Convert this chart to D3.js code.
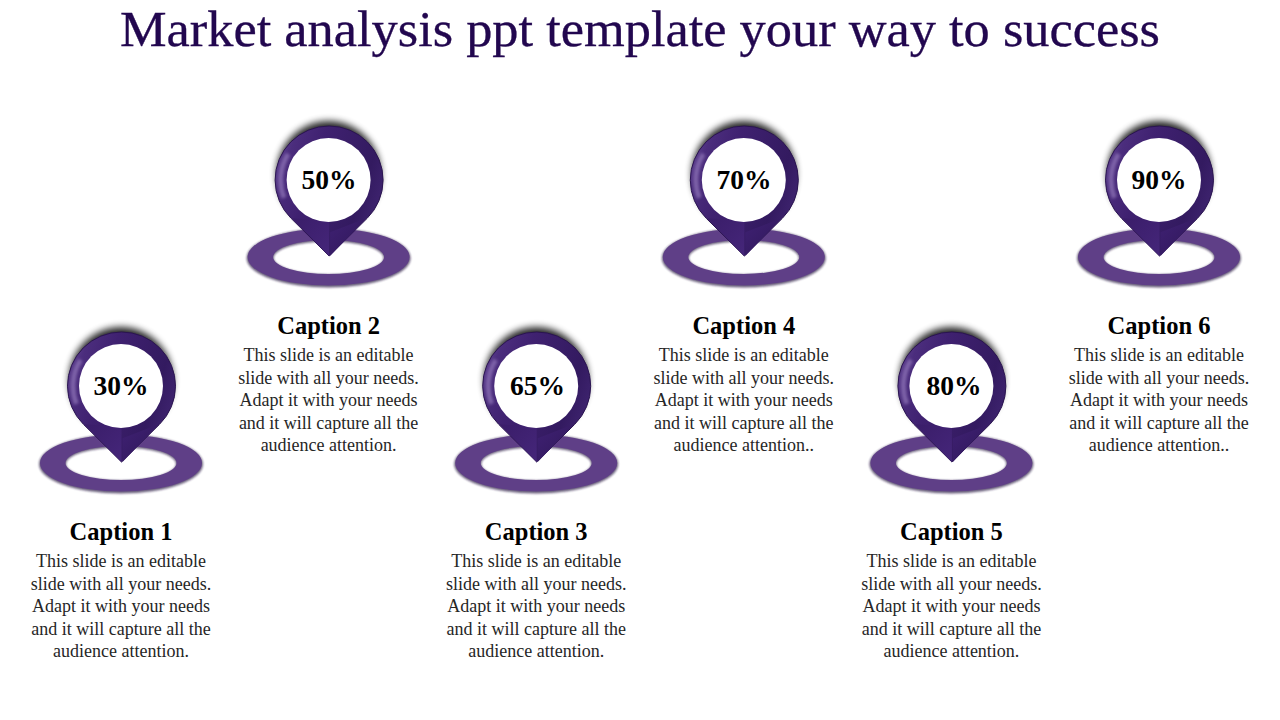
<!DOCTYPE html>
<html><head><meta charset="utf-8">
<script src="https://cdn.jsdelivr.net/npm/d3@7/dist/d3.min.js"></script>
<style>html,body{margin:0;padding:0;background:#fff;overflow:hidden}svg{display:block}</style>
</head><body><svg id="c" width="1280" height="720"></svg>
<script>
const titleText = "Market analysis ppt template your way to success";
const captions = ["Caption 1","Caption 2","Caption 3","Caption 4","Caption 5","Caption 6"];
const percents = [30,50,65,70,80,90];
const levels = ["low","high","low","high","low","high"];
const bodyShort = ["This slide is an editable","slide with all your needs.","Adapt it with your needs","and it will capture all the"];
const lastLines = ["audience attention.","audience attention.","audience attention.","audience attention..","audience attention.","audience attention.."];

const svg = d3.select("#c");
const x = d3.scalePoint().domain(captions).range([121,1159]);
const xLow = d3.scalePoint().domain(captions.filter((d,i)=>levels[i]==="low")).range([121,954]);
const xHigh = d3.scalePoint().domain(captions.filter((d,i)=>levels[i]==="high")).range([329,1159]);
const y = d3.scaleOrdinal().domain(["high","low"]).range([180,386]);
const fmt = d => d + "%";
const serif = "'Liberation Serif',serif";

const defs = svg.append("defs");
const blur = (id,s)=>defs.append("filter").attr("id",id).attr("x","-30%").attr("y","-30%").attr("width","160%").attr("height","160%")
  .append("feGaussianBlur").attr("stdDeviation",s);
blur("b4",3.5); blur("b2",1.8); blur("b1",1);
const lg=(id,x1,y1,x2,y2,stops)=>{const g=defs.append("linearGradient").attr("id",id).attr("x1",x1).attr("y1",y1).attr("x2",x2).attr("y2",y2);
  stops.forEach(([o,c])=>g.append("stop").attr("offset",o).attr("stop-color",c));};
lg("rim",0,0.2,1,0.6,[[0,"#5f4190"],[0.12,"#4b2d7d"],[0.35,"#3f2170"],[0.8,"#331a60"],[1,"#3f2470"]]);
lg("facetL",0,0,1,1,[[0,"#3a1d69"],[1,"#45267a"]]);
lg("facetR",0,0,1,1,[[0,"#3f2173"],[1,"#2f1759"]]);

svg.append("text").attr("x",640).attr("y",46).attr("text-anchor","middle")
  .attr("font-family",serif).attr("font-size",50).attr("fill","#22074f")
  .attr("stroke","#22074f").attr("stroke-width",0.3)
  .attr("textLength",1040).attr("lengthAdjust","spacingAndGlyphs").text(titleText);

const R=54, TIP=76, th=Math.acos(R/TIP), tx=R*Math.sin(th), ty=R*Math.cos(th);
const pinPath=(()=>{const p=d3.path();p.moveTo(0,TIP);p.lineTo(-tx,ty);
  p.arc(0,0,R,Math.PI/2+th,Math.PI/2-th+2*Math.PI,false);p.closePath();return p.toString();})();
const ring=(rx,ry)=>`M${-rx},0A${rx},${ry} 0 1,1 ${rx},0A${rx},${ry} 0 1,1 ${-rx},0Z`;

const g = svg.selectAll("g.pin").data(captions).join("g").attr("class","pin")
  .attr("transform",(d,i)=>`translate(${x(d)},${y(levels[i])})`);

// base ring
g.append("path").attr("d",ring(82,29.5)+ring(55,16.5)).attr("fill-rule","evenodd").attr("transform","translate(0,78)")
  .attr("fill","#2a1a45").attr("opacity",.7).attr("filter","url(#b1)");
g.append("path").attr("d",ring(81,28.5)+ring(55.5,17)).attr("fill-rule","evenodd").attr("transform","translate(0,77)")
  .attr("fill","#5f3f87");
// pin shadow
g.append("ellipse").attr("cx",0).attr("cy",-6).attr("rx",52).attr("ry",53).attr("fill","#000").attr("opacity",.85).attr("filter","url(#b4)");
const pin = g.append("g").attr("transform","translate(0.5,0)");
pin.append("path").attr("d",pinPath).attr("fill","url(#rim)").attr("stroke","#2a1450").attr("stroke-width",1);
// tip facets
pin.append("path").attr("d",d3.line()([[0,TIP],[-tx+1,ty],[0,ty+2]])).attr("fill","url(#facetL)");
pin.append("path").attr("d",d3.line()([[1,TIP],[tx-1,ty],[1,ty+14]])).attr("fill","url(#facetR)");
// highlight arc
pin.append("path").attr("d",d3.arc()({innerRadius:46,outerRadius:51,startAngle:-Math.PI*0.62,endAngle:-Math.PI*0.32}))
  .attr("fill","#8a70b4").attr("opacity",.8).attr("filter","url(#b2)");
g.append("circle").attr("r",42).attr("fill","#fff");
svg.selectAll("text.pct").data(captions).join("text").attr("class","pct")
  .attr("x",(d,i)=>levels[i]==="low"?xLow(d):xHigh(d)).attr("y",(d,i)=>y(levels[i])+9).attr("text-anchor","middle").attr("font-family",serif).attr("font-weight","bold")
  .attr("font-size",27.5).attr("fill","#000").text((d,i)=>fmt(percents[i]));

// captions + body
const tg = g.append("g");
tg.append("text").attr("y",154).attr("text-anchor","middle").attr("font-family",serif).attr("font-weight","bold")
  .attr("font-size",24.5).attr("fill","#000").text(d=>d);
tg.each(function(d,i){
  const lines=[...bodyShort,lastLines[i]];
  d3.select(this).selectAll("text.b").data(lines).join("text").attr("class","b")
    .attr("y",(l,k)=>181+k*22.5).attr("text-anchor","middle").attr("font-family",serif)
    .attr("font-size",18).attr("fill","#262626").text(l=>l);
});
</script></body></html>
